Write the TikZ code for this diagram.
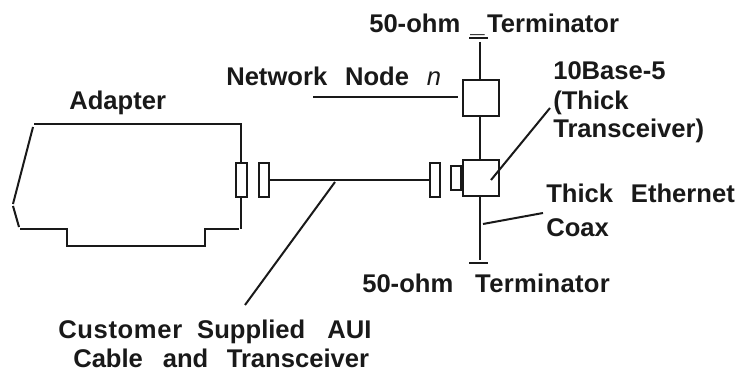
\documentclass[tikz,border=0pt]{standalone}
\usepackage{fontspec}
\setmainfont{Liberation Sans}
\newcommand{\wideword}[2]{{\addfontfeatures{LetterSpace=#1}#2}}
\begin{document}
\begin{tikzpicture}[x=0.75pt,y=-0.75pt,
  wire/.style={draw=black!90,line width=1.5pt},
  lab/.style={font=\bfseries\fontsize{19.2}{23}\selectfont,text=black!90,inner sep=0pt,anchor=base west,align=left},
  conn/.style={draw=black!90,line width=1.5pt,fill=white,rectangle,inner sep=0pt,minimum width=8pt,minimum height=25pt},
  unitbox/.style={draw=black!90,line width=1.5pt,fill=white,rectangle,inner sep=0pt,minimum width=26.5pt,minimum height=26.5pt},
  stub/.style={draw=black!90,line width=1.5pt,fill=white,rectangle,inner sep=0pt,minimum width=8pt,minimum height=18.5pt}]
\useasboundingbox (0,0) rectangle (742,373);
\coordinate (ta) at (469,38.5); \coordinate (tb) at (488,38.5); \coordinate (tc) at (479.5,42);
\coordinate (ba) at (469,263); \coordinate (bb) at (488,263); \coordinate (bc) at (479.5,260);
\coordinate (nl) at (313,97); \coordinate (nr) at (458,97);
\draw[wire,line join=miter] (34,124) -- (241,124) -- (241,163);
\draw[wire] (241,197) -- (241,229);
\draw[wire] (33,127) -- (13,204);
\draw[wire] (13,206) -- (19,227);
\draw[wire] (20,229.5) -- (67,229.5) -- (67,246) -- (205,246) -- (205,229.5) -- (239,229.5);
\node[conn] (c1) at (241.5,180) {};
\node[conn] (c2) at (264,180) {};
\node[conn] (c3) at (435,180) {};
\node[unitbox] (nn) at (481,98) {};
\node[unitbox] (tr) at (481,178) {};
\node[stub,anchor=east] (st) at (tr.west) {};
\draw[wire] (c2.east) -- (c3.west);
\draw[wire] (tc) -- (479.5,80);
\draw[wire] (479.5,116) -- (479.5,160);
\draw[wire] (479.5,196) -- (bc);
\draw[wire] (ta) -- (tb);
\draw[wire] (ba) -- (bb);
\draw[wire] (nl) -- (nr);
\coordinate (ad1) at (491,180); \coordinate (ad2) at (550,108);
\draw[wire] (ad1) -- (ad2);
\coordinate (cx1) at (483,224); \coordinate (cx2) at (543,213);
\draw[wire] (cx1) -- (cx2);
\coordinate (au1) at (245,305); \coordinate (au2) at (335,182);
\draw[wire] (au1) -- (au2);
\node[lab] (l1) at (69,110) {Adapter};
\node[lab] (l2) at (369,33) {50-ohm\hspace{0.39em}\_\hspace{0.1em}\wideword{0.1}{Terminator}};
\node[lab] (l3) at (226,86) {Network\hspace{0.42em} Node\hspace{0.42em} \textmd{\textit{n}}};
\node[lab] (l4) at (553,80) {10Base-5};
\node[lab] (l5) at (553,110) {(Thick};
\node[lab] (l6) at (553,138) {Transceiver)};
\node[lab] (l7) at (546,203) {Thick\hspace{0.42em} Ethernet};
\node[lab] (l8) at (546,237) {Coax};
\node[lab] (l9) at (362,293) {50-ohm\hspace{0.58em} \wideword{1.2}{Terminator}};
\node[lab] (l10) at (58,339) {\wideword{2.5}{Customer}\hspace{0.31em} Supplied\hspace{0.58em} AUI};
\node[lab] (l11) at (73,368) {Cable\hspace{0.5em} and\hspace{0.44em} Transceiver};
\end{tikzpicture}
\end{document}
